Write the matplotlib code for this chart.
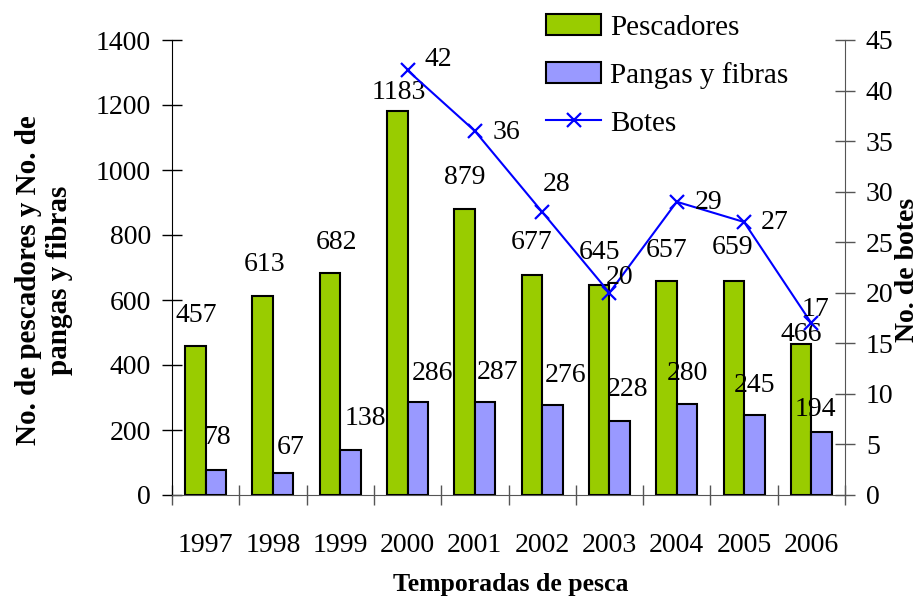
import numpy as np
import matplotlib
matplotlib.use("Agg")
import matplotlib.pyplot as plt

plt.rcParams['font.family'] = ['Liberation Serif', 'DejaVu Serif']

years = ['1997', '1998', '1999', '2000', '2001', '2002', '2003', '2004', '2005', '2006']
pescadores = [457, 613, 682, 1183, 879, 677, 645, 657, 659, 466]
pangas = [78, 67, 138, 286, 287, 276, 228, 280, 245, 194]
botes = [42, 36, 28, 20, 29, 27, 17]
botes_years = years[3:]

# label offsets in pixels (dx, dy up)
off_pesc = [(1, 31), (2, 31), (7, 31), (2, 18), (0, 32), (0, 32), (0, 33), (0, 31), (-1, 33), (0, 9)]
off_pang = [(1, 32), (7, 26), (15, 32), (15, 29), (12, 29), (13, 30), (8, 31), (0, 31), (0, 30), (-6, 22)]
off_bote = [(31, 11), (32, -2), (14, 27), (10, 15), (32, -1), (31, -1), (4, 14)]

GREEN = '#99CC00'
BLUE = '#9999FF'
LINE = '#0000FF'
px = 0.72  # points per pixel at dpi 100

fig = plt.figure(figsize=(9.18, 6), dpi=100)
ax = fig.add_axes([172/918, 1-495/600, (845-172)/918, (495-40)/600])
ax2 = ax.twinx()

x = np.arange(len(years))
w = 0.305
b1 = ax.bar(x - w/2, pescadores, w, color=GREEN, edgecolor='black', linewidth=1.5, label='Pescadores', zorder=3)
b2 = ax.bar(x + w/2, pangas, w, color=BLUE, edgecolor='black', linewidth=1.5, label='Pangas y fibras', zorder=3)

xb = np.arange(3, len(years))
l1, = ax2.plot(xb, botes, color=LINE, lw=1.5, marker='x', ms=10, mew=1.6, label='Botes')

fs = 20
for i, v in enumerate(pescadores):
    ax.annotate(str(v), (x[i] - w/2, v), xytext=(off_pesc[i][0]*px, off_pesc[i][1]*px),
                textcoords='offset points', ha='center', va='center', fontsize=fs, zorder=5)
for i, v in enumerate(pangas):
    ax.annotate(str(v), (x[i] + w/2, v), xytext=(off_pang[i][0]*px, off_pang[i][1]*px),
                textcoords='offset points', ha='center', va='center', fontsize=fs, zorder=5)
for i, v in enumerate(botes):
    ax2.annotate(str(v), (xb[i], v), xytext=(off_bote[i][0]*px, off_bote[i][1]*px),
                 textcoords='offset points', ha='center', va='center', fontsize=fs)

ax.set_xlim(-0.5, len(years) - 0.5)
ax.set_ylim(0, 1400)
ax.set_yticks(np.arange(0, 1401, 200))
ax2.set_ylim(0, 45)
ax2.set_yticks(np.arange(0, 46, 5))

ax.set_xticks(np.arange(-0.5, len(years), 1))
ax.set_xticklabels([])
ax.set_xticks(x, minor=True)
ax.set_xticklabels(years, minor=True, fontsize=20)
ax.tick_params(axis='x', which='major', direction='inout', length=14, width=1, color='#555555')
ax.tick_params(axis='x', which='minor', length=0, pad=27)
ax.tick_params(axis='y', direction='inout', length=14, width=1, labelsize=fs, pad=8)
ax2.tick_params(axis='y', direction='inout', length=14, width=1, labelsize=fs, pad=8, color='#555555')

for a in (ax, ax2):
    a.spines['top'].set_visible(False)
ax2.spines['left'].set_visible(False)
ax2.spines['bottom'].set_visible(False)
ax.spines['right'].set_visible(False)
ax.spines['bottom'].set_color('#555555')
ax2.spines['right'].set_color('#555555')
ax.patch.set_visible(False)
ax2.set_zorder(ax.get_zorder() + 1)

fig.text(511/918, 1 - 585/600, 'Temporadas de pesca', fontsize=18.5, fontweight='bold',
         ha='center', va='center')
fig.text(44/918, 1 - 280/600, 'No. de pescadores y No. de\npangas y fibras', fontsize=21,
         fontweight='bold', rotation=90, ha='center', va='center', linespacing=1.15,
         multialignment='center')
fig.text(907/918, 1 - 270/600, 'No. de botes', fontsize=20, fontweight='bold',
         rotation=90, ha='center', va='center')

fig.legend(handles=[b1, b2, l1], loc='upper left', bbox_to_anchor=(546/918, 1 - 14/600),
           frameon=False, fontsize=21, handlelength=1.9, handleheight=0.75,
           labelspacing=0.72, handletextpad=0.3, borderaxespad=0, borderpad=0)

fig.savefig('out.png', dpi=100)
